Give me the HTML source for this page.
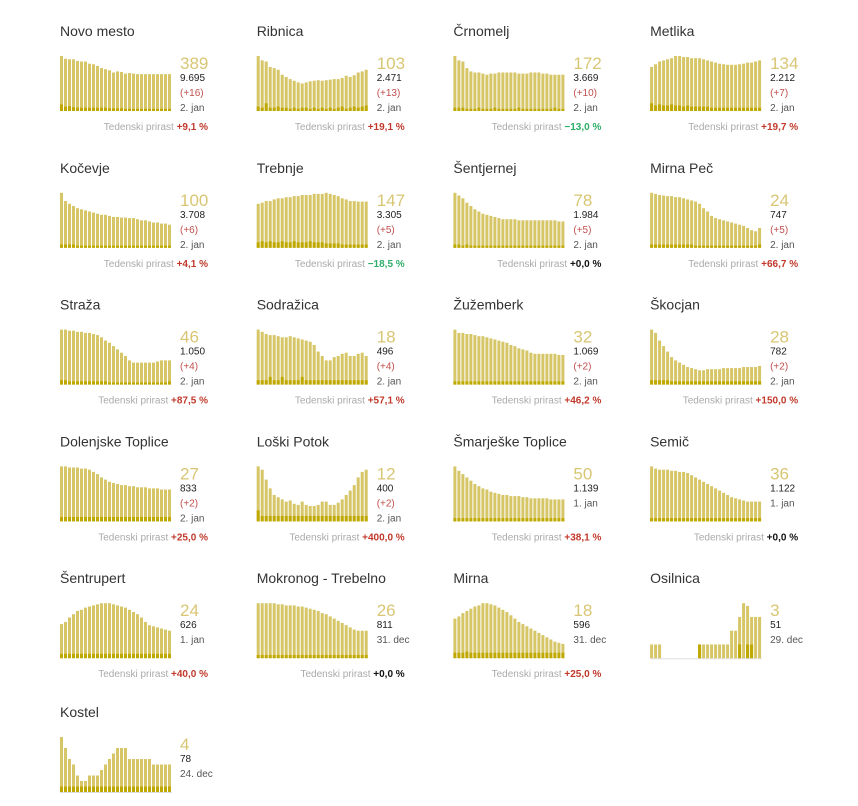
<!DOCTYPE html>
<html><head><meta charset="utf-8">
<style>
body{margin:0;background:#fff;font-family:"Liberation Sans",sans-serif;}
#wrap{position:relative;width:858px;height:806px;overflow:hidden;}
svg{position:absolute;left:0;top:0;}
</style></head>
<body>
<div id="wrap">
<svg id="chart" width="858" height="806"></svg>
</div>
<script>
const names=["Novo mesto","Ribnica","Črnomelj","Metlika","Kočevje","Trebnje","Šentjernej","Mirna Peč","Straža","Sodražica","Žužemberk","Škocjan","Dolenjske Toplice","Loški Potok","Šmarješke Toplice","Semič","Šentrupert","Mokronog - Trebelno","Mirna","Osilnica","Kostel"];
const activeCases=[389,103,172,134,100,147,78,24,46,18,32,28,27,12,50,36,24,26,18,3,4];
const totals=["9.695","2.471","3.669","2.212","3.708","3.305","1.984","747","1.050","496","1.069","782","833","400","1.139","1.122","626","811","596","51","78"];
const deltas=["(+16)","(+13)","(+10)","(+7)","(+6)","(+5)","(+5)","(+5)","(+4)","(+4)","(+2)","(+2)","(+2)","(+2)","","","","","","",""];
const dates=["2. jan","2. jan","2. jan","2. jan","2. jan","2. jan","2. jan","2. jan","2. jan","2. jan","2. jan","2. jan","2. jan","2. jan","1. jan","1. jan","1. jan","31. dec","31. dec","29. dec","24. dec"];
const weekly=["+9,1 %","+19,1 %","−13,0 %","+19,7 %","+4,1 %","−18,5 %","+0,0 %","+66,7 %","+87,5 %","+57,1 %","+46,2 %","+150,0 %","+25,0 %","+400,0 %","+38,1 %","+0,0 %","+40,0 %","+0,0 %","+25,0 %","",""];
const series=[
[100,95,94,94,91,90,90,86,85,82,78,76,74,70,72,71,68,69,68,67,67,67,67,67,67,67,67,67],
[100,92,90,80,78,75,66,62,58,55,52,50,52,54,55,56,55,56,57,58,58,60,64,62,65,70,72,75],
[100,92,90,78,72,70,70,68,66,68,68,70,70,70,70,70,68,68,68,70,70,70,68,68,66,66,66,66],
[80,85,90,92,94,96,100,100,98,98,96,96,96,94,92,90,88,86,85,84,84,84,85,86,88,88,90,92],
[100,85,80,76,72,70,68,66,64,62,60,60,58,56,56,55,55,54,54,52,50,50,48,46,46,44,44,42],
[80,82,85,85,88,90,90,92,92,94,94,96,96,96,98,98,98,100,98,96,94,90,88,85,85,84,84,84],
[100,95,90,82,76,70,66,62,60,58,56,54,52,52,52,52,50,50,50,50,50,50,50,50,50,50,48,48],
[100,98,96,95,94,94,92,92,90,88,86,84,80,72,66,58,54,52,50,48,46,44,42,40,36,32,30,36],
[100,100,98,98,96,96,94,94,92,90,86,80,76,70,64,58,52,44,40,40,40,40,40,40,42,44,44,44],
[100,96,92,90,90,88,86,86,88,86,84,82,80,78,72,60,52,44,44,50,52,56,58,52,52,56,58,52],
[100,94,94,92,92,90,88,88,86,84,82,80,78,76,72,70,66,64,62,58,56,56,56,56,56,56,54,54],
[100,94,80,70,60,50,44,40,36,32,30,28,26,26,28,28,28,28,30,30,30,30,30,32,32,32,32,34],
[100,100,98,98,98,96,96,94,90,86,80,76,72,70,68,66,66,64,64,62,62,62,60,60,60,58,58,58],
[100,94,76,60,48,44,40,36,38,32,30,36,30,28,28,30,36,36,30,30,34,40,48,56,66,80,90,94],
[100,92,86,80,74,68,64,60,58,54,52,50,48,48,46,46,46,44,44,42,42,42,42,42,40,40,40,40],
[100,96,94,94,94,92,92,90,90,88,84,80,76,72,68,64,60,56,52,48,44,42,40,38,36,36,36,36],
[62,66,74,80,86,88,92,94,96,98,100,100,100,98,96,94,92,88,84,80,74,66,60,58,56,54,52,50],
[100,100,100,100,100,98,98,96,96,96,94,94,92,90,88,86,82,80,76,72,68,64,60,56,52,50,50,50],
[72,76,82,86,90,94,96,100,100,98,96,92,88,84,78,72,66,62,58,54,50,46,42,38,34,30,28,26],
[25,25,25,0,0,0,0,0,0,0,0,0,25,25,25,25,25,25,25,25,50,50,75,100,95,75,75,75],
[100,80,60,50,30,20,20,30,30,30,40,50,60,70,80,80,80,60,60,60,60,60,60,50,50,50,50,50]
];
const newCases=[
[12,8,9,7,6,6,6,6,6,6,6,6,5,5,5,5,4,4,4,4,4,4,4,4,4,4,4,4],
[8,6,14,6,6,8,6,6,4,6,4,6,6,4,6,4,6,4,6,4,6,8,4,6,8,6,8,10],
[6,6,6,4,4,4,6,4,4,4,6,4,4,4,4,4,6,4,4,4,4,4,4,4,4,6,4,4],
[14,10,12,10,10,12,10,10,8,10,8,8,8,8,8,6,6,6,6,6,6,6,6,6,6,6,6,6],
[6,6,6,6,4,4,4,4,4,4,4,4,4,4,4,4,4,4,4,4,4,4,4,4,4,4,4,4],
[10,12,10,12,10,10,12,10,10,12,10,10,10,12,10,10,10,8,8,8,8,6,6,6,6,6,6,6],
[6,6,4,6,4,4,4,4,4,4,4,4,4,4,4,4,4,4,4,4,4,4,4,4,4,4,4,4],
[6,6,6,6,6,6,6,6,6,6,6,4,4,4,4,4,4,4,4,4,4,4,4,4,4,4,4,6],
[8,8,6,6,6,6,6,6,6,6,6,6,4,4,4,4,4,4,4,4,4,4,4,4,4,4,4,6],
[8,8,8,14,8,8,14,8,8,8,8,14,8,8,8,8,8,8,8,8,8,8,8,8,8,8,8,8],
[6,6,6,6,6,6,6,6,6,6,6,6,6,6,6,6,6,6,6,6,6,6,6,6,6,6,6,6],
[8,8,8,8,8,6,6,6,6,6,6,6,6,6,6,6,6,6,6,6,6,6,6,6,6,6,6,6],
[8,8,8,8,8,8,8,8,8,8,8,8,8,8,8,8,8,8,8,8,8,8,8,8,8,8,8,8],
[20,10,10,10,10,10,10,10,10,10,10,10,10,10,10,10,10,10,10,10,10,10,10,10,10,10,10,10],
[6,6,6,6,6,6,6,6,6,6,6,6,6,6,6,6,6,6,6,6,6,6,6,6,6,6,6,6],
[6,6,6,6,6,6,6,6,6,6,6,6,6,6,6,6,6,6,6,6,6,6,6,6,6,6,6,6],
[8,8,8,8,8,8,8,8,8,8,8,8,8,8,8,8,8,8,8,8,8,8,8,8,8,8,8,8],
[6,6,6,6,6,6,6,6,6,6,6,6,6,6,6,6,6,6,6,6,6,6,6,6,6,6,6,6],
[10,10,10,12,10,10,10,10,10,10,10,10,10,10,10,10,10,10,10,10,10,10,10,10,10,10,10,10],
[0,0,0,0,0,0,0,0,0,0,0,0,25,0,0,0,0,0,0,0,0,0,25,0,25,25,0,0],
[10,10,10,10,10,10,10,10,10,10,10,10,10,10,10,10,10,10,10,10,10,10,10,10,10,10,10,10]
];
const NS="http://www.w3.org/2000/svg";
const svg=document.getElementById('chart');
function mk(tag,attrs,parent){const e=document.createElementNS(NS,tag);for(const k in attrs)e.setAttribute(k,attrs[k]);(parent||svg).appendChild(e);return e;}
function txt(parent,x,y,s,size,fill,anchor,weight){const t=mk('text',{x:x,y:y,'font-size':size,fill:fill,'text-anchor':anchor||'start','font-weight':weight||'normal'},parent);t.textContent=s;return t;}
const chartW=112,chartH=55;
names.forEach((nm,i)=>{
  const col=i%4,row=Math.floor(i/4);
  const px=60+col*196.7, py=row*136.8+(row===5?-3:0);
  const g=mk('g',{});
  
  
  const tt=txt(g,px,py+36,nm,14,'#333');
  
  
  const vals=series[i],nv=newCases[i],n=vals.length;
  const base=py+111, step=chartW/n;
  const yS=v=>chartH*v/100;
  if(i>=19){const bl=mk('line',{x1:px,x2:px+chartW,y1:base+0.5,y2:base+0.5,stroke:'#ddd','stroke-width':1},g);
    }
  vals.forEach((v,j)=>{
    const h=yS(v);
    const r=mk('rect',{x:px+j*step,y:base-h,width:step-1,height:h,fill:'#d6c668'},g);
    
    
    const hn=yS(nv[j]);
    if(hn>0){const d=mk('rect',{x:px+j*step,y:base-hn,width:step-1,height:hn,fill:'#bfa800'},g);
      
      }
  });
  const tx=px+120;
  const b=txt(g,tx,py+69,String(activeCases[i]),17,'#d8c674');
  
  const t=txt(g,tx,py+81,totals[i],10,'#222');
  
  let ly=py+96;
  if(deltas[i]){const d=txt(g,tx,ly,deltas[i],10,'#c0504d');
    ly+=15;}
  const dt=txt(g,tx,ly,dates[i],10,'#555');
  
  if(weekly[i]){
    const col2=weekly[i].startsWith('−')?'#2eae6a':(weekly[i]==='+0,0 %'?'#111':'#c0392b');
    const fy=py+130;
    const f=mk('text',{x:px+148,y:fy,'font-size':10,'text-anchor':'end'},g);
    
    
    const s1=mk('tspan',{fill:'#aaa'},f);s1.textContent='Tedenski prirast ';
    const s2=mk('tspan',{fill:col2,'font-weight':'bold'},f);s2.textContent=weekly[i];
  }
});
</script>
</body></html>
